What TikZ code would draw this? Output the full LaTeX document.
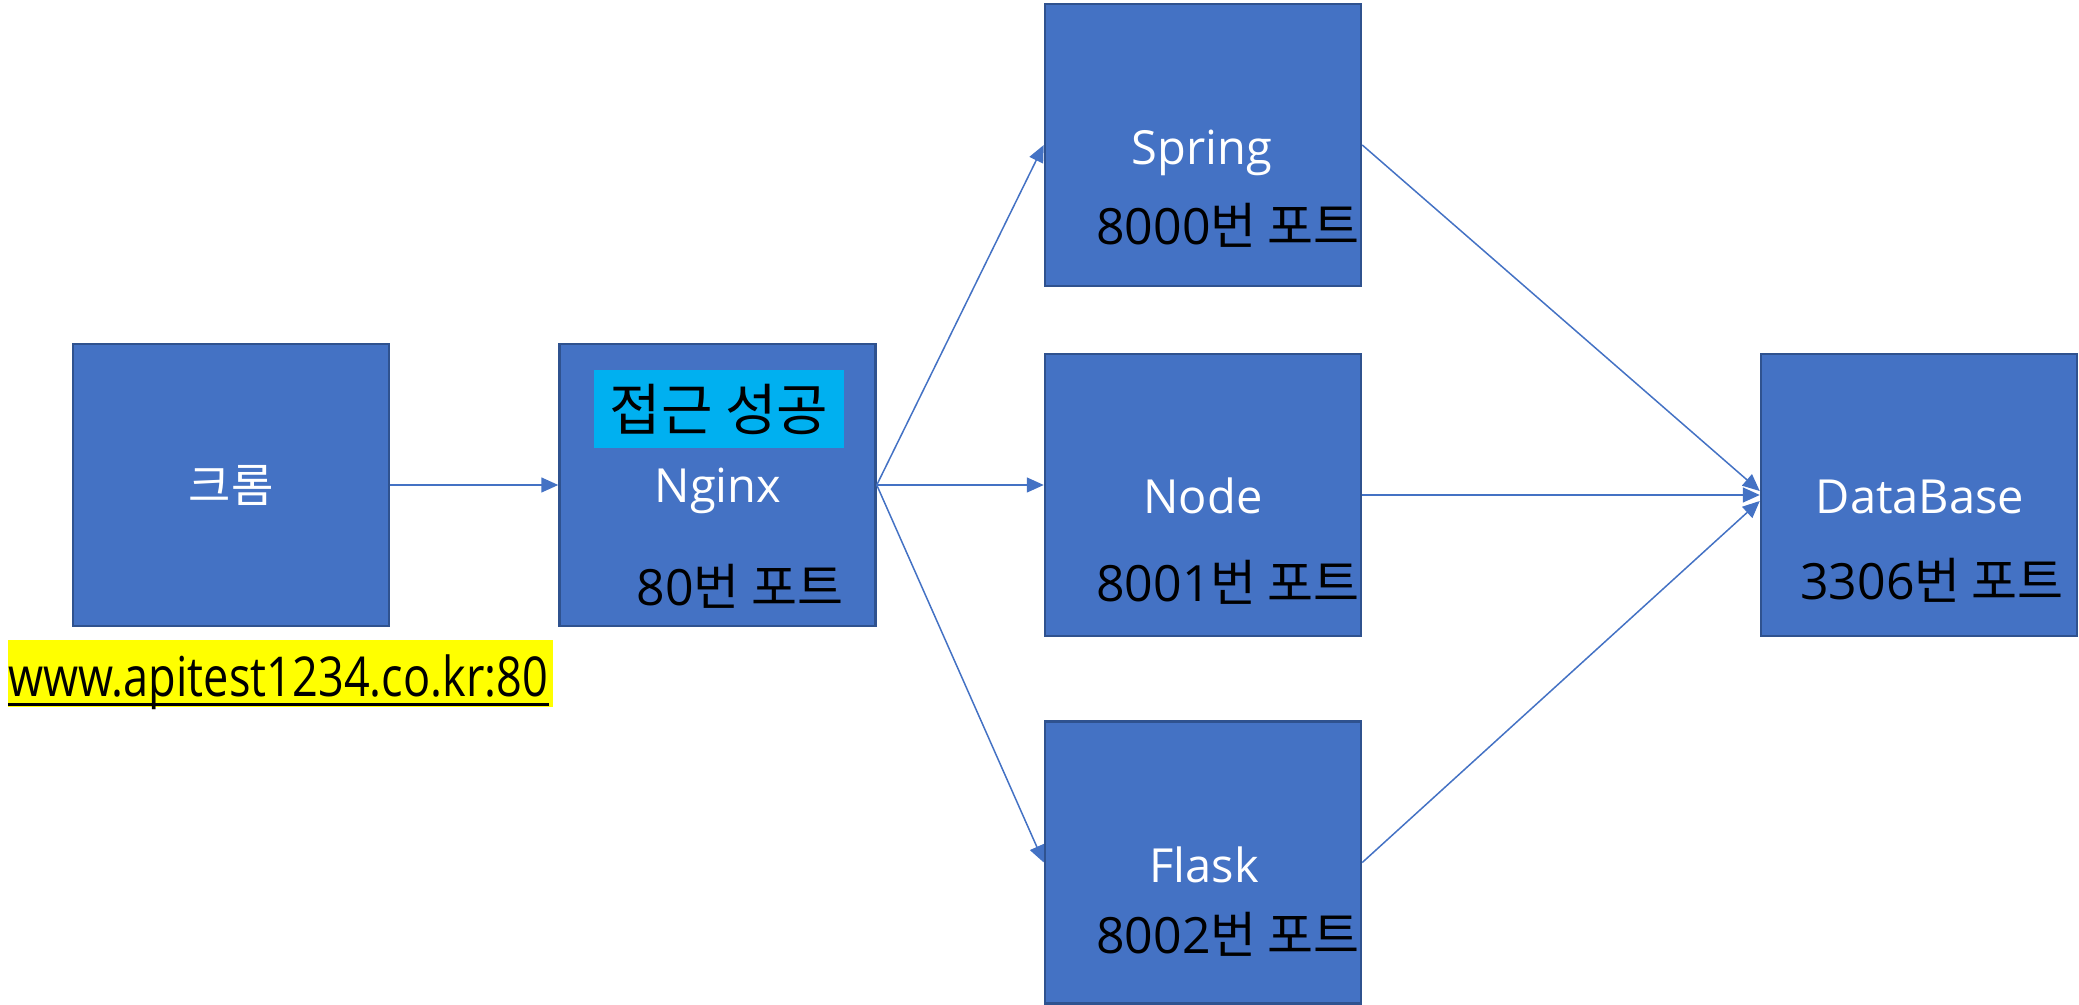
\documentclass[tikz,border=0pt]{standalone}
\usepackage{graphicx}
\usepackage{fontspec}
\setmainfont{Open Sans}
\newfontfamily\kr{Noto Sans CJK KR}
\usetikzlibrary{arrows.meta}
\definecolor{boxblue}{HTML}{4472C4}
\definecolor{boxedge}{HTML}{2F528F}
\definecolor{okcyan}{HTML}{00B0F0}
\definecolor{hlyellow}{HTML}{FFFF00}
\begin{document}
\begin{tikzpicture}[x=0.5pt,y=-0.5pt,
  srv/.style={draw=boxedge, fill=boxblue, line width=1.25pt, minimum width=158pt, minimum height=141pt, inner sep=0pt},
  conn/.style={draw=boxblue, line width=0.75pt, -{Triangle[length=8.5pt,width=7.5pt]}},
  wlab/.style={text=white, inner sep=0pt, anchor=base, font=\fontsize{23.5}{28}\selectfont},
  port/.style={text=black, inner sep=0pt, anchor=base, font=\fontsize{25}{30}\selectfont}]
\useasboundingbox (0,0) rectangle (2079,1005);
% boxes
\node[srv] (chrome) at (231,485) {};
\node[srv] (nginx) at (717.5,485) {};
\node[srv] (spring) at (1203,145) {};
\node[srv] (nodejs) at (1203,495) {};
\node[srv] (flask) at (1203,862.5) {};
\node[srv] (db) at (1919,495) {};
% labels
\node[text=white, inner sep=0pt, font=\kr\fontsize{23}{28}\selectfont] (chromelab) at (231,485) {크롬};
\node[fill=okcyan, minimum width=125pt, minimum height=39pt, inner sep=0pt] (ok) at (719,409) {};
\node[inner sep=0pt, font=\kr\fontsize{28}{32}\selectfont] (oklab) at (719,409) {접근 성공};
\node[wlab] (nginxlab) at (718,503) {Nginx};
\node[port] (nginxport) at (740,605) {80{\kr 번 포트}};
\node[wlab] (springlab) at (1202,165) {Spring};
\node[port] (springport) at (1228,245) {8000{\kr 번 포트}};
\node[wlab] (nodelab) at (1203,514) {Node};
\node[port] (nodeport) at (1228,602) {8001{\kr 번 포트}};
\node[wlab] (flasklab) at (1204,882) {Flask};
\node[port] (flaskport) at (1228,953) {8002{\kr 번 포트}};
\node[wlab] (dblab) at (1920,514) {DataBase};
\node[port] (dbport) at (1932,600) {3306{\kr 번 포트}};
% url
\node[fill=hlyellow, minimum width=272.5pt, minimum height=33.5pt, inner sep=0pt] (hl) at (280.5,673.5) {};
\node[anchor=base west, inner sep=0pt, font=\fontsize{27.5}{32}\selectfont] (url) at (8,697) {\scalebox{0.82}[1]{www.apitest1234.co.kr:80}};
\draw[line width=1.5pt] ([yshift=-3.5pt]url.base west) -- ([yshift=-3.5pt]url.base east);
% connectors
\draw[conn] (chrome.east) -- (nginx.west);
\draw[conn] (nginx.east) -- (spring.west);
\draw[conn] (nginx.east) -- (nginx.east -| nodejs.west);
\draw[conn] (nginx.east) -- (flask.west);
\draw[conn] (spring.east) -- ([yshift=2pt]db.west);
\draw[conn] (nodejs.east) -- (db.west);
\draw[conn] (flask.east) -- ([yshift=-3pt]db.west);
\end{tikzpicture}
\end{document}
